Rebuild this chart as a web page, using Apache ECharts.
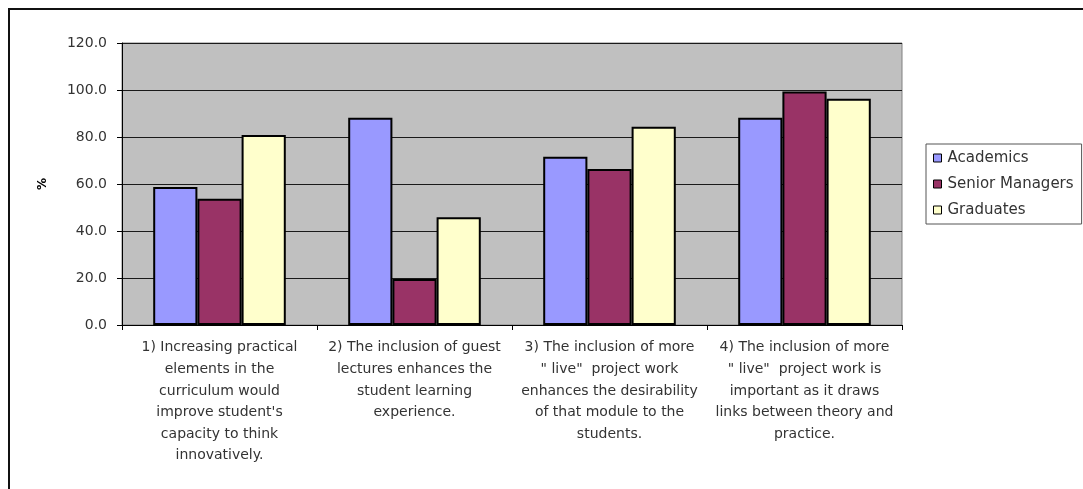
<!DOCTYPE html>
<html>
<head>
<meta charset="utf-8">
<title>Agreement by respondent group</title>
<script src="https://cdn.jsdelivr.net/npm/echarts@6/dist/echarts.min.js"></script>
<style>
  html, body { margin: 0; padding: 0; background: #ffffff; }
  #chart { width: 1083px; height: 489px; }
</style>
</head>
<body>
<div id="chart"></div>
<script>
// Statements (category axis), wrapped as they appear under the bars
const categories = [
  '1) Increasing practical\nelements in the\ncurriculum would\nimprove student\'s\ncapacity to think\ninnovatively.',
  '2) The inclusion of guest\nlectures enhances the\nstudent learning\nexperience.',
  '3) The inclusion of more\n" live"  project work\nenhances the desirability\nof that module to the\nstudents.',
  '4) The inclusion of more\n" live"  project work is\nimportant as it draws\nlinks between theory and\npractice.'
];

// Percentage agreeing, per respondent group
const academics = [58.7, 88.2, 71.6, 88.2];
const seniorManagers = [53.7, 19.6, 66.4, 99.4];
const graduates = [80.8, 45.9, 84.4, 96.3];

const seriesNames = ['Academics', 'Senior Managers', 'Graduates'];

// Value axis range and step
const yMin = 0;
const yMax = 120;
const yStep = 20;

const colors = ['#9999FF', '#993366', '#FFFFCC'];
const FONT = 'DejaVu Sans';

const chart = echarts.init(document.getElementById('chart'), null, { renderer: 'canvas' });

function barSeries(name, data, color) {
  return {
    name: name,
    type: 'bar',
    data: data,
    barGap: '0%',
    barCategoryGap: '32%',
    itemStyle: { color: color, borderColor: '#000000', borderWidth: 2 },
    emphasis: { disabled: true },
    animation: false
  };
}

chart.setOption({
  backgroundColor: '#ffffff',
  animation: false,
  graphic: [{
    type: 'rect',
    shape: { x: 9, y: 9, width: 1200, height: 600 },
    style: { fill: null, stroke: '#111111', lineWidth: 2 },
    silent: true,
    z: -1
  }],
  grid: {
    left: 122, top: 43, right: 181, bottom: 164,
    show: true,
    backgroundColor: '#c0c0c0',
    borderColor: '#808080',
    borderWidth: 1
  },
  legend: {
    orient: 'vertical',
    left: 926,
    top: 144,
    padding: [5, 8, 5, 7],
    itemGap: 8,
    itemWidth: 8,
    itemHeight: 8,
    icon: 'rect',
    borderColor: '#555555',
    borderWidth: 1,
    backgroundColor: '#ffffff',
    selectedMode: false,
    itemStyle: { borderColor: '#000000', borderWidth: 1 },
    textStyle: { fontFamily: FONT, fontSize: 15, color: '#333333', lineHeight: 18, padding: [0, 0, 0, 1] },
    data: seriesNames
  },
  xAxis: {
    type: 'category',
    data: categories,
    boundaryGap: true,
    axisLine: { show: true, lineStyle: { color: '#000000', width: 1 } },
    axisTick: { show: true, length: 5, inside: false, lineStyle: { color: '#000000' } },
    axisLabel: {
      interval: 0,
      margin: 12,
      fontFamily: FONT,
      fontSize: 14,
      color: '#333333',
      lineHeight: 21.6,
      align: 'center'
    },
    splitLine: { show: false }
  },
  yAxis: {
    type: 'value',
    min: yMin,
    max: yMax,
    interval: yStep,
    name: '%',
    nameLocation: 'middle',
    nameGap: 73,
    nameRotate: 90,
    nameTextStyle: { fontFamily: FONT, fontSize: 12, fontWeight: 'bold', color: '#000000' },
    axisLine: { show: true, lineStyle: { color: '#000000', width: 1 } },
    axisTick: { show: true, length: 5, inside: false, lineStyle: { color: '#000000' } },
    axisLabel: {
      margin: 15,
      fontFamily: FONT,
      fontSize: 14,
      color: '#333333',
      formatter: v => v.toFixed(1)
    },
    splitLine: { show: true, lineStyle: { color: '#1a1a1a', width: 1 } }
  },
  series: [
    barSeries(seriesNames[0], academics, colors[0]),
    barSeries(seriesNames[1], seniorManagers, colors[1]),
    barSeries(seriesNames[2], graduates, colors[2])
  ]
});
</script>
</body>
</html>
